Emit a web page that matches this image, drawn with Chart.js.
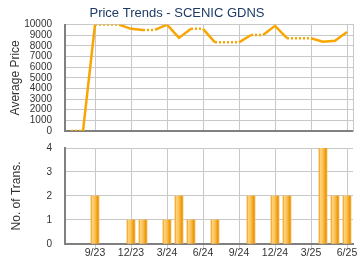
<!DOCTYPE html>
<html>
<head>
<meta charset="utf-8">
<script src="https://cdn.jsdelivr.net/npm/chart.js@4.4.0/dist/chart.umd.min.js"></script>
<style>
    html, body { margin: 0; padding: 0; background: #fff; }
    #wrap { position: relative; width: 360px; height: 270px; overflow: hidden; }
    #priceBox { position: absolute; left: 0; top: 0; width: 360px; height: 150px; }
    #transBox { position: absolute; left: 0; top: 129px; width: 360px; height: 141px; }
</style>
</head>
<body>
<div id="wrap">
    <div id="priceBox"><canvas id="priceChart" width="360" height="150"></canvas></div>
    <div id="transBox"><canvas id="transChart" width="360" height="141"></canvas></div>
</div>
<script>
const months = ['7/23', '8/23', '9/23', '10/23', '11/23', '12/23', '1/24', '2/24', '3/24', '4/24', '5/24', '6/24',
    '7/24', '8/24', '9/24', '10/24', '11/24', '12/24', '1/25', '2/25', '3/25', '4/25', '5/25', '6/25'];
const avgPrice = [0, 0, 10000, 10000, 10000, 9600, 9500, 9500, 10000, 8750, 9600, 9600,
    8330, 8330, 8330, 9020, 9020, 9880, 8720, 8720, 8720, 8400, 8480, 9300];
const transCount = [0, 0, 2, 0, 0, 1, 1, 0, 1, 2, 1, 0,
    1, 0, 0, 2, 0, 2, 2, 0, 0, 4, 2, 2];
const priceTicks = [0, 1000, 2000, 3000, 4000, 5000, 6000, 7000, 8000, 9000, 10000];
const transTicks = [0, 1, 2, 3, 4];

const gridColor = '#c8c8c8';
const axisColor = '#808080';
const textColor = '#333';
const lineColor = '#f9a602';

Chart.defaults.font.family = '"Liberation Sans", Arial, sans-serif';
Chart.defaults.animation = false;

// quarter months get a grid line and a label
function isQuarter(i) {
    return parseInt(months[i].split('/')[0]) % 3 === 0;
}
function xGridColor(ctx) {
    return isQuarter(ctx.index) ? gridColor : 'rgba(0,0,0,0)';
}

var ctx1 = document.getElementById('priceChart').getContext('2d');
var priceChart = new Chart(ctx1, {
    type: 'line',
    data: {
        labels: months,
        datasets: [{
            data: avgPrice,
            borderColor: lineColor,
            borderWidth: 2.5,
            pointRadius: 0,
            tension: 0,
            segment: {
                borderDash: c => transCount[c.p1DataIndex] === 0 ? [2, 2] : undefined
            }
        }]
    },
    options: {
        responsive: false,
        layout: { padding: { left: 0, right: 6, top: 0, bottom: 0 } },
        plugins: {
            legend: { display: false },
            tooltip: { enabled: false },
            title: {
                display: true,
                text: 'Price Trends - SCENIC GDNS',
                color: '#1d3b66',
                font: { size: 13, weight: 'normal' },
                padding: { top: 6, bottom: 3 }
            }
        },
        scales: {
            x: {
                offset: true,
                grid: { offset: false, color: xGridColor, drawTicks: false },
                border: { color: axisColor, width: 2 },
                ticks: { display: false }
            },
            y: {
                min: 0,
                max: 10000,
                afterBuildTicks: s => { s.ticks = priceTicks.map(v => ({ value: v })); },
                afterFit: s => { s.width = 65; },
                grid: { color: gridColor, drawTicks: false },
                border: { color: axisColor, width: 2 },
                ticks: { color: textColor, font: { size: 10 }, padding: 13, autoSkip: false, callback: v => String(v) },
                title: {
                    display: true,
                    text: 'Average Price',
                    color: textColor,
                    font: { size: 12 },
                    padding: { top: 8, bottom: 0 }
                }
            },
            yRight: {
                position: 'right',
                ticks: { display: false },
                grid: { drawOnChartArea: false, drawTicks: false },
                border: { color: gridColor, width: 1 },
                afterFit: s => { s.width = 1; }
            }
        }
    }
});

// cylinder look for the bars
function barFill(c) {
    const xs = c.chart.scales.x;
    const cx = xs && c.dataIndex !== undefined ? xs.getPixelForValue(c.dataIndex) : NaN;
    if (!isFinite(cx) || !transCount[c.dataIndex]) return 'rgba(0,0,0,0)';
    const g = c.chart.ctx.createLinearGradient(cx - 4, 0, cx + 4, 0);
    g.addColorStop(0, '#e99a12');
    g.addColorStop(0.15, '#ffd27c');
    g.addColorStop(0.45, '#fcc55a');
    g.addColorStop(0.7, '#f3a927');
    g.addColorStop(0.85, '#e8940a');
    g.addColorStop(1, '#f7b444');
    return g;
}

var ctx2 = document.getElementById('transChart').getContext('2d');
var transChart = new Chart(ctx2, {
    type: 'bar',
    data: {
        labels: months,
        datasets: [{
            data: transCount,
            backgroundColor: barFill,
            barThickness: 8
        }]
    },
    options: {
        responsive: false,
        layout: { padding: { left: 0, right: 7, top: 1, bottom: 12.5 } },
        plugins: {
            legend: { display: false },
            tooltip: { enabled: false }
        },
        scales: {
            x: {
                grid: { offset: false, color: xGridColor, tickLength: 4 },
                border: { color: axisColor, width: 2 },
                ticks: {
                    color: textColor,
                    font: { size: 10.5 },
                    padding: -1.5,
                    maxRotation: 0,
                    autoSkip: false,
                    callback: (v, i) => isQuarter(i) ? months[i] : ''
                }
            },
            y: {
                min: 0,
                max: 4,
                afterBuildTicks: s => { s.ticks = transTicks.map(v => ({ value: v })); },
                afterFit: s => { s.width = 65; },
                grid: { color: gridColor, drawTicks: false },
                border: { color: axisColor, width: 2 },
                ticks: { color: textColor, font: { size: 10 }, padding: 13, autoSkip: false },
                title: {
                    display: true,
                    text: 'No. of Trans.',
                    color: textColor,
                    font: { size: 12 },
                    padding: { top: 9, bottom: 0 }
                }
            }
        }
    }
});
// redraw once scales are known so every bar gets its gradient
transChart.update();
</script>
</body>
</html>
